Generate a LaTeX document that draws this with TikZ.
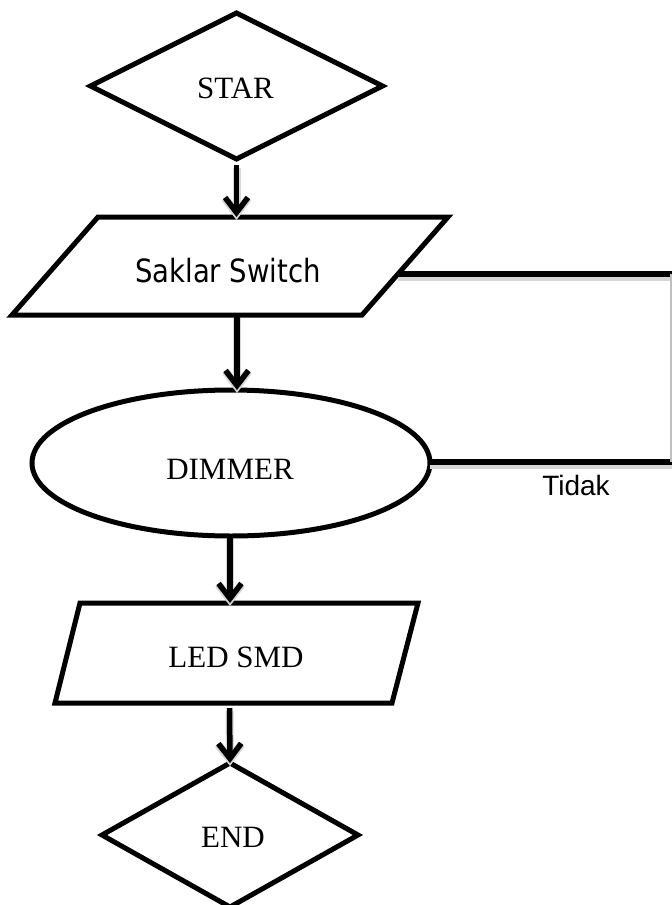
\documentclass[tikz,border=0pt]{standalone}
\usepackage{fontspec}
\setmainfont{Liberation Serif}
\newfontfamily\labelsans{Liberation Sans}
\newfontfamily\boxsans[FakeStretch=0.86]{DejaVu Sans}
\usetikzlibrary{arrows.meta}
\begin{document}
\begin{tikzpicture}[x=1pt,y=-1pt,
  shapeline/.style={draw=black,line width=5pt,line join=miter},
  softshadow/.style={preaction={draw=black!16,line width=8pt,transform canvas={yshift=-3pt}}},
  flow/.style={line width=5.5pt,softshadow,-{Straight Barb[length=15pt,width=23pt]}},
  link/.style={line width=5.5pt,softshadow},
  serifText/.style={font=\fontsize{31}{31}\selectfont,anchor=base,inner sep=0pt},
  sansText/.style={font=\boxsans\fontsize{32}{32}\selectfont,anchor=base,inner sep=0pt},
  noteText/.style={font=\labelsans\fontsize{28}{28}\selectfont,anchor=base,inner sep=0pt}]
  \fill[white] (0,0) rectangle (672,905);
  \useasboundingbox (0,0) rectangle (672,905);

  % START diamond
  \coordinate (stN) at (236.5,13);
  \coordinate (stE) at (382.5,86);
  \coordinate (stS) at (236.5,159);
  \coordinate (stW) at (90.5,86);
  \draw[shapeline] (stN) -- (stE) -- (stS) -- (stW) -- cycle;
  \node[serifText] (startxt) at (235.5,98) {STAR};

  % input: Saklar Switch
  \coordinate (swTL) at (98,217);
  \coordinate (swTR) at (448,217);
  \coordinate (swBR) at (362,315);
  \coordinate (swBL) at (12,315);
  \draw[shapeline] (swTL) -- (swTR) -- (swBR) -- (swBL) -- cycle;
  \node[sansText] (swtxt) at (228,282) {Saklar Switch};
  \coordinate (swIn) at (236.5,217);
  \coordinate (swOut) at (237,315);
  \coordinate (swSide) at (398,274);
  \coordinate (swFar) at (672,274);

  % DIMMER process
  \coordinate (dmC) at (231,463);
  \draw[shapeline] (dmC) ellipse [x radius=199, y radius=73];
  \node[serifText] (dmtxt) at (230,479) {DIMMER};
  \coordinate (dmIn) at (237,390);
  \coordinate (dmOut) at (230,536);
  \coordinate (dmSide) at (430,462);
  \coordinate (dmFar) at (672,462);

  % output: LED SMD
  \coordinate (ldTL) at (80,603);
  \coordinate (ldTR) at (418,603);
  \coordinate (ldBR) at (392,703);
  \coordinate (ldBL) at (55,703);
  \draw[shapeline] (ldTL) -- (ldTR) -- (ldBR) -- (ldBL) -- cycle;
  \node[serifText] (ldtxt) at (236,667) {LED SMD};
  \coordinate (ldIn) at (230,603);
  \coordinate (ldOut) at (229.5,703);

  % END diamond
  \coordinate (enN) at (230,763);
  \coordinate (enE) at (358,835);
  \coordinate (enS) at (230,907);
  \coordinate (enW) at (102,835);
  \draw[shapeline] (enN) -- (enE) -- (enS) -- (enW) -- cycle;
  \node[serifText] (entxt) at (233,847) {END};

  % main flow
  \draw[flow] ([yshift=-6pt]stS) -- (swIn);
  \draw[flow] (swOut) -- (dmIn);
  \draw[flow] (dmOut) -- (ldIn);
  \draw[flow] ([yshift=-5pt]ldOut) -- (enN);

  % feedback branch
  \draw[link] (swSide) -- (swFar);
  \draw[link] (dmSide) -- (dmFar);
  \draw[black!25,line width=1.5pt] ([xshift=-1pt]swFar) -- ([xshift=-1pt]dmFar);
  \node[noteText] (tidak) at (576,495) {Tidak};
\end{tikzpicture}
\end{document}
